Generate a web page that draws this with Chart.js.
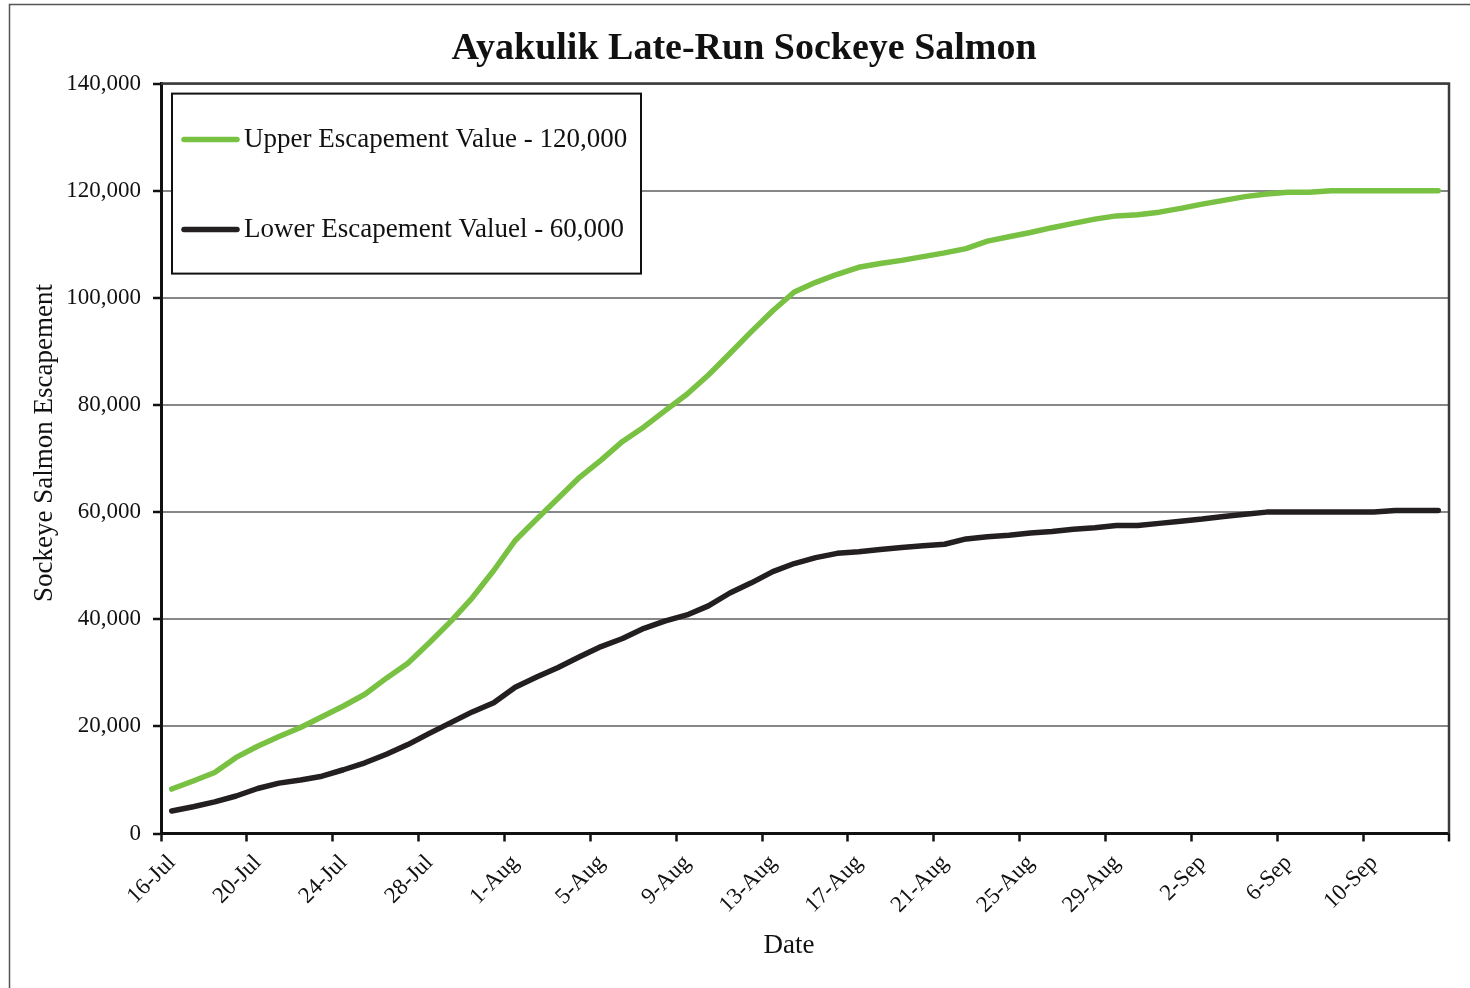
<!DOCTYPE html>
<html>
<head>
<meta charset="utf-8">
<title>Ayakulik Late-Run Sockeye Salmon</title>
<script src="https://cdn.jsdelivr.net/npm/chart.js@4.4.1/dist/chart.umd.min.js"></script>
<style>
  html, body { margin: 0; padding: 0; background: #fff; }
  canvas { display: block; }
</style>
</head>
<body>
<canvas id="escapement" width="1470" height="988"></canvas>
<script>
// daily dates, 16-Jul through 13-Sep
const dates = [
  '16-Jul', '17-Jul', '18-Jul', '19-Jul', '20-Jul', '21-Jul', '22-Jul', '23-Jul',
  '24-Jul', '25-Jul', '26-Jul', '27-Jul', '28-Jul', '29-Jul', '30-Jul', '31-Jul',
  '1-Aug', '2-Aug', '3-Aug', '4-Aug', '5-Aug', '6-Aug', '7-Aug', '8-Aug',
  '9-Aug', '10-Aug', '11-Aug', '12-Aug', '13-Aug', '14-Aug', '15-Aug', '16-Aug',
  '17-Aug', '18-Aug', '19-Aug', '20-Aug', '21-Aug', '22-Aug', '23-Aug', '24-Aug',
  '25-Aug', '26-Aug', '27-Aug', '28-Aug', '29-Aug', '30-Aug', '31-Aug', '1-Sep',
  '2-Sep', '3-Sep', '4-Sep', '5-Sep', '6-Sep', '7-Sep', '8-Sep', '9-Sep',
  '10-Sep', '11-Sep', '12-Sep', '13-Sep'
];

// cumulative escapement goals, fish
const upperGoal = [
  8300, 9800, 11400, 14200, 16300, 18100, 19800, 21800, 23800, 26000,
  29000, 31800, 35600, 39600, 44000, 49100, 54700, 58700, 62600, 66500,
  69700, 73200, 75900, 79000, 82000, 85600, 89600, 93700, 97600, 101100,
  102900, 104400, 105700, 106400, 107000, 107700, 108400, 109200, 110600, 111400,
  112200, 113100, 113900, 114700, 115300, 115500, 116000, 116700, 117500, 118200,
  118900, 119400, 119700, 119700, 120000, 120000, 120000, 120000, 120000, 120000
];
const lowerGoal = [
  4200, 5000, 5900, 7000, 8400, 9400, 10000, 10700, 11900, 13200,
  14800, 16600, 18700, 20700, 22700, 24400, 27300, 29200, 31000, 33000,
  34900, 36400, 38300, 39700, 40800, 42500, 44900, 46800, 48900, 50400,
  51500, 52300, 52600, 53000, 53400, 53700, 54000, 55000, 55400, 55700,
  56100, 56400, 56800, 57100, 57500, 57500, 57900, 58300, 58700, 59200,
  59600, 60000, 60000, 60000, 60000, 60000, 60000, 60300, 60300, 60300
];

const yTicks = [0, 20000, 40000, 60000, 80000, 100000, 120000, 140000];
const xTickDays = [0, 4, 8, 12, 16, 20, 24, 28, 32, 36, 40, 44, 48, 52, 56];

const xTitle = 'Date';
const yTitle = 'Sockeye Salmon Escapement';

const serif = 'Liberation Serif';

// each day sits in the middle of its slot on the date axis
const toPoints = arr => arr.map((v, i) => ({ x: i + 0.5, y: v }));

const frame = {
  id: 'frame',
  beforeDraw(chart) {
    const c = chart.ctx;
    c.save();
    c.fillStyle = '#fff';
    c.fillRect(0, 0, chart.width, chart.height);
    c.strokeStyle = '#555';
    c.lineWidth = 1.5;
    c.strokeRect(9.5, 4.5, chart.width + 20, chart.height + 20);
    c.restore();
  },
  afterDraw(chart) {
    const c = chart.ctx;
    const a = chart.chartArea;
    c.save();
    // top and right edge of the plot
    c.strokeStyle = '#3a3a3a';
    c.lineWidth = 2.5;
    c.beginPath();
    c.moveTo(a.left, a.top);
    c.lineTo(a.right, a.top);
    c.lineTo(a.right, a.bottom);
    c.stroke();
    // closing tick at the end of the date axis
    c.strokeStyle = '#111';
    c.beginPath();
    c.moveTo(a.right, a.bottom);
    c.lineTo(a.right, a.bottom + 8);
    c.stroke();

    // axis titles
    c.fillStyle = '#111';
    c.font = '27px "' + serif + '"';
    c.textAlign = 'center';
    c.textBaseline = 'alphabetic';
    c.fillText(xTitle, 789, 953);
    c.save();
    c.translate(52, 443);
    c.rotate(-Math.PI / 2);
    c.fillText(yTitle, 0, 0);
    c.restore();

    // legend box in the upper left of the plot
    const bx = a.left + 11, by = a.top + 10, bw = 469, bh = 180;
    c.fillStyle = '#fff';
    c.fillRect(bx, by, bw, bh);
    c.strokeStyle = '#111';
    c.lineWidth = 2;
    c.strokeRect(bx, by, bw, bh);

    c.textBaseline = 'middle';
    c.textAlign = 'left';
    chart.data.datasets.forEach((ds, i) => {
      const y = by + 46 + i * 90;
      c.strokeStyle = ds.borderColor;
      c.lineWidth = ds.borderWidth;
      c.lineCap = 'round';
      c.beginPath();
      c.moveTo(bx + 12, y);
      c.lineTo(bx + 65, y);
      c.stroke();
      c.fillStyle = '#111';
      c.fillText(ds.label, bx + 72, y);
    });
    c.restore();
  }
};

new Chart(document.getElementById('escapement'), {
  type: 'line',
  data: {
    datasets: [
      {
        label: 'Upper Escapement Value - 120,000',
        data: toPoints(upperGoal),
        borderColor: '#79c142',
        borderWidth: 5.5
      },
      {
        label: 'Lower Escapement Valuel - 60,000',
        data: toPoints(lowerGoal),
        borderColor: '#231f20',
        borderWidth: 5.5
      }
    ]
  },
  options: {
    responsive: false,
    animation: false,
    layout: { padding: { left: 39, right: 21, top: 0, bottom: 0 } },
    elements: {
      point: { radius: 0 },
      line: { tension: 0, borderCapStyle: 'round', borderJoinStyle: 'round' }
    },
    plugins: {
      legend: { display: false },
      tooltip: { enabled: false },
      title: {
        display: true,
        text: 'Ayakulik Late-Run Sockeye Salmon',
        color: '#111',
        font: { family: serif, size: 38, weight: 'bold' },
        padding: { top: 26, bottom: 12 }
      }
    },
    scales: {
      x: {
        type: 'linear',
        min: 0,
        max: 60,
        afterFit: s => { s.height = 154.5; },
        afterBuildTicks: s => { s.ticks = xTickDays.map(v => ({ value: v })); },
        ticks: {
          autoSkip: false,
          maxRotation: 45,
          minRotation: 45,
          padding: 8,
          labelOffset: 11,
          color: '#111',
          font: { family: serif, size: 23 },
          callback: v => dates[v] || ''
        },
        grid: {
          drawOnChartArea: false,
          tickLength: 8,
          tickColor: '#111',
          tickWidth: 2.5
        },
        border: { color: '#111', width: 3 }
      },
      y: {
        min: 0,
        max: 140000,
        afterFit: s => { s.width = 122; },
        afterBuildTicks: s => { s.ticks = yTicks.map(v => ({ value: v })); },
        ticks: {
          padding: 12,
          color: '#111',
          font: { family: serif, size: 23 },
          callback: v => v.toLocaleString('en-US')
        },
        grid: {
          color: '#878787',
          lineWidth: 2,
          tickLength: 8,
          tickColor: '#111',
          tickWidth: 2.5
        },
        border: { color: '#111', width: 3 }
      }
    }
  },
  plugins: [frame]
});
</script>
</body>
</html>
